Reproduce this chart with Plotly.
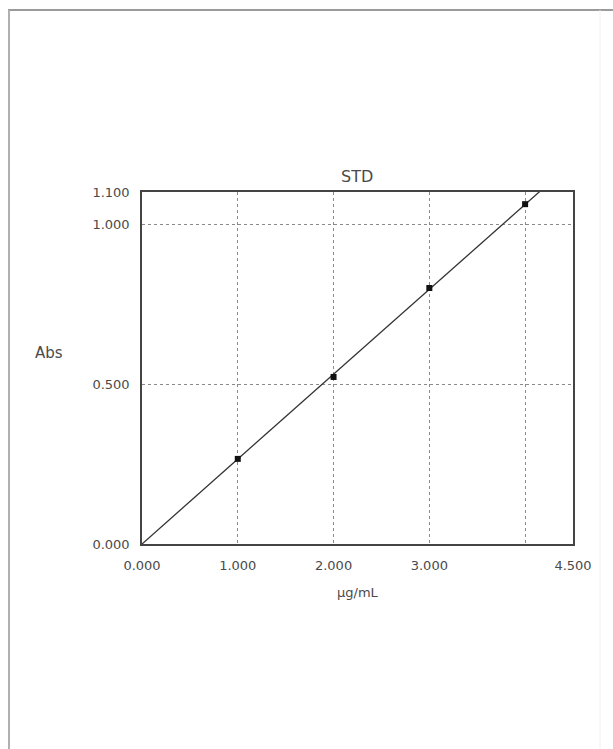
import numpy as np
import plotly.graph_objects as go

# Data
conc = [1.0, 2.0, 3.0, 4.0]            # µg/mL
absorb = [0.266, 0.522, 0.800, 1.062]  # Abs

x_ticks = [0, 1, 2, 3, 4, 4.5]
x_labels = ["0.000", "1.000", "2.000", "3.000", "", "4.500"]
y_ticks = [0, 0.5, 1.0, 1.1]
y_labels = ["0.000", "0.500", "1.000", "1.100"]

# Calibration line through origin (least squares)
xa = np.array(conc)
ya = np.array(absorb)
slope = float((xa * ya).sum() / (xa * xa).sum())
line_x = [0.0, 4.5]
line_y = [slope * v for v in line_x]

W, H = 613, 749
L, R, T, B = 142, 573, 192, 544
PW, PH = R - L, B - T


def px(x):
    return (x - L) / PW


def py(y):
    return (B - y) / PH


FAM = "DejaVu Sans, Liberation Sans, Arial, sans-serif"
TXT = "#4a4a4a"

fig = go.Figure()
fig.add_trace(go.Scatter(x=line_x, y=line_y, mode="lines",
                         line=dict(color="#333333", width=1.3),
                         hoverinfo="skip", showlegend=False))
fig.add_trace(go.Scatter(x=conc, y=absorb, mode="markers",
                         marker=dict(color="#111111", size=6, symbol="square"),
                         showlegend=False))

fig.update_layout(
    width=W, height=H,
    margin=dict(l=L, r=W - R, t=T, b=H - B, pad=0),
    paper_bgcolor="white", plot_bgcolor="white",
    font=dict(family=FAM, size=13, color=TXT),
    xaxis=dict(range=[0, 4.5], tickvals=x_ticks, ticktext=x_labels,
               showgrid=True, gridcolor="#8a8a8a", griddash="dot", gridwidth=1,
               showline=True, linecolor="#444444", linewidth=1.5, mirror=True,
               ticks="", zeroline=False, ticklabelstandoff=9,
               tickfont=dict(family=FAM, size=13, color=TXT)),
    yaxis=dict(range=[0, 1.1], tickvals=y_ticks, ticktext=y_labels,
               showgrid=True, gridcolor="#8a8a8a", griddash="dot", gridwidth=1,
               showline=True, linecolor="#444444", linewidth=1.5, mirror=True,
               ticks="", zeroline=False, ticklabelstandoff=8,
               tickfont=dict(family=FAM, size=13, color=TXT)),
    annotations=[
        dict(text="STD", xref="paper", yref="paper", x=px(357), y=py(176),
             xanchor="center", yanchor="middle", showarrow=False,
             font=dict(family=FAM, size=16, color=TXT)),
        dict(text="Abs", xref="paper", yref="paper", x=px(49), y=py(353),
             xanchor="center", yanchor="middle", showarrow=False,
             font=dict(family=FAM, size=15, color=TXT)),
        dict(text="μg/mL", xref="paper", yref="paper", x=px(358), y=py(592),
             xanchor="center", yanchor="middle", showarrow=False,
             font=dict(family=FAM, size=13, color=TXT)),
    ],
    shapes=[
        dict(type="line", xref="paper", yref="paper",
             x0=px(8), x1=px(613), y0=py(10), y1=py(10),
             line=dict(color="#9a9a9a", width=2)),
        dict(type="line", xref="paper", yref="paper",
             x0=px(9), x1=px(9), y0=py(10), y1=py(749),
             line=dict(color="#b0b0b0", width=2)),
        dict(type="line", xref="paper", yref="paper",
             x0=px(600), x1=px(600), y0=py(10), y1=py(749),
             line=dict(color="#f0f0f0", width=1)),
    ],
)

fig.write_html("out.html", config={"displayModeBar": False},
               post_script="document.body.style.margin='0';document.body.style.overflow='hidden';")
